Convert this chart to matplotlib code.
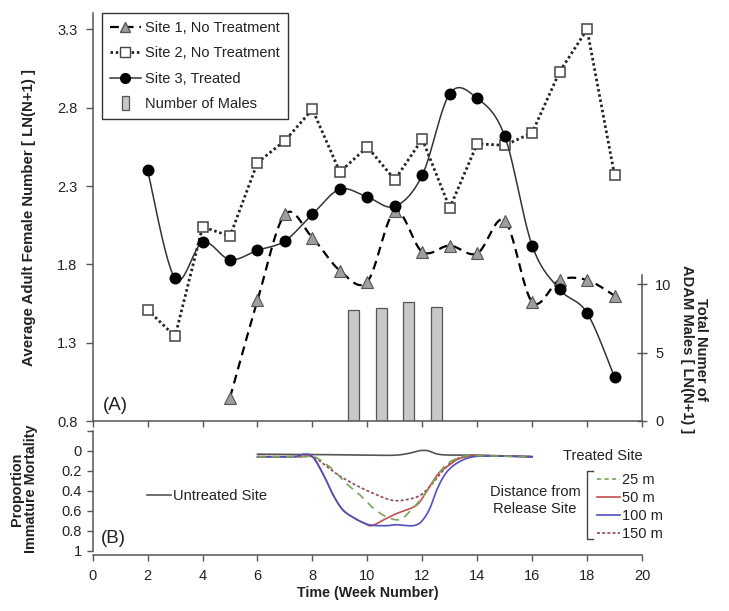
import numpy as np
import matplotlib
matplotlib.use('Agg')
import matplotlib.pyplot as plt
from matplotlib.lines import Line2D
from matplotlib.patches import Rectangle
from matplotlib.legend_handler import HandlerPatch

plt.rcParams['font.family'] = ['Liberation Sans', 'DejaVu Sans']

# ---- data ----
site1_weeks = [5, 6, 7, 8, 9, 10, 11, 12, 13, 14, 15, 16, 17, 18, 19]
site1 = [0.95, 1.57, 2.12, 1.97, 1.76, 1.69, 2.14, 1.88, 1.92, 1.87, 2.08, 1.56, 1.70, 1.70, 1.60]

site2_weeks = [2, 3, 4, 5, 6, 7, 8, 9, 10, 11, 12, 13, 14, 15, 16, 17, 18, 19]
site2 = [1.51, 1.34, 2.04, 1.98, 2.45, 2.59, 2.79, 2.39, 2.55, 2.34, 2.60, 2.16, 2.57, 2.56, 2.64, 3.03, 3.30, 2.37]

site3_weeks = [2, 3, 4, 5, 6, 7, 8, 9, 10, 11, 12, 13, 14, 15, 16, 17, 18, 19]
site3 = [2.40, 1.71, 1.94, 1.83, 1.89, 1.95, 2.12, 2.28, 2.23, 2.17, 2.37, 2.89, 2.86, 2.62, 1.92, 1.64, 1.49, 1.08]

male_weeks = [9.5, 10.5, 11.5, 12.5]
males = [8.1, 8.3, 8.7, 8.35]

untreated_x = [6, 8, 10, 11, 11.5, 11.9, 12.2, 12.5, 12.9, 14, 16]
untreated = [0.035, 0.038, 0.045, 0.045, 0.027, 0.0, 0.0, 0.03, 0.043, 0.045, 0.06]

m25_x = [6, 7.5, 8.0, 8.27, 8.75, 9.24, 9.72, 10.2, 10.69, 11.17, 11.54, 11.9, 12.21, 12.51, 12.87, 13.24, 13.6, 14, 15, 16]
m25 = [0.06, 0.06, 0.06, 0.09, 0.19, 0.33, 0.44, 0.57, 0.66, 0.69, 0.61, 0.50, 0.39, 0.26, 0.14, 0.08, 0.05, 0.05, 0.055, 0.06]

m50_x = [6, 7.5, 8.0, 8.4, 8.75, 9.1, 9.5, 9.85, 10.15, 10.6, 11.05, 11.55, 11.85, 12.15, 12.4, 12.65, 12.95, 13.25, 13.6, 14, 15, 16]
m50 = [0.06, 0.06, 0.06, 0.24, 0.44, 0.59, 0.67, 0.72, 0.75, 0.69, 0.63, 0.58, 0.53, 0.41, 0.30, 0.21, 0.15, 0.09, 0.06, 0.05, 0.055, 0.06]

m100_x = [6, 7.3, 7.7, 8.0, 8.4, 8.75, 9.1, 9.5, 9.85, 10.15, 10.7, 11.05, 11.45, 11.75, 12.0, 12.27, 12.5, 12.75, 13.0, 13.35, 13.7, 14.1, 15, 16]
m100 = [0.06, 0.06, 0.035, 0.06, 0.24, 0.44, 0.59, 0.67, 0.72, 0.745, 0.75, 0.74, 0.75, 0.745, 0.70, 0.58, 0.41, 0.27, 0.18, 0.11, 0.07, 0.055, 0.055, 0.06]

m150_x = [6, 7.5, 8.0, 8.39, 8.87, 9.48, 10.08, 10.69, 11.05, 11.42, 11.9, 12.27, 12.63, 12.99, 13.36, 13.72, 14.5, 16]
m150 = [0.06, 0.06, 0.06, 0.13, 0.23, 0.33, 0.41, 0.48, 0.50, 0.49, 0.45, 0.36, 0.24, 0.13, 0.07, 0.05, 0.05, 0.06]

top_ticks = [0.8, 1.3, 1.8, 2.3, 2.8, 3.3]
male_ticks = [0, 5, 10]
mort_ticks = [-0.2, 0, 0.2, 0.4, 0.6, 0.8, 1]
mort_labels = ['', '0', '0.2', '0.4', '0.6', '0.8', '1']
week_ticks = [0, 2, 4, 6, 8, 10, 12, 14, 16, 18, 20]


def smooth(x, y, n=24):
    # Catmull-Rom curve through the points (like Excel's smoothed line)
    P = np.column_stack([x, y]).astype(float)
    P = np.vstack([P[0], P, P[-1]])
    t = np.linspace(0, 1, n, endpoint=False)[:, None]
    segs = []
    for i in range(1, len(P) - 2):
        p0, p1, p2, p3 = P[i - 1], P[i], P[i + 1], P[i + 2]
        segs.append(0.5 * (2 * p1 + (p2 - p0) * t
                           + (2 * p0 - 5 * p1 + 4 * p2 - p3) * t ** 2
                           + (-p0 + 3 * p1 - 3 * p2 + p3) * t ** 3))
    segs.append(P[-2][None])
    c = np.vstack(segs)
    return c[:, 0], c[:, 1]


W, H = 729, 611
fig = plt.figure(figsize=(7.29, 6.11), dpi=100)
fx = lambda px: px / W
fy = lambda py: 1 - py / H

spine_c = '#555555'
text_c = '#222222'

axA = fig.add_axes([fx(92.7), fy(421), fx(642) - fx(92.7), fy(13) - fy(421)])
axM = axA.twinx()
axA.set_zorder(axM.get_zorder() + 1)
axA.patch.set_visible(False)
axB = fig.add_axes([fx(92.7), fy(555), fx(642) - fx(92.7), fy(430.7) - fy(555)])

# ---- panel A ----
axM.bar(male_weeks, males, width=0.4, color='#c8c8c8', edgecolor='#555555', linewidth=0.9)

sx, sy = smooth(site1_weeks, site1)
axA.plot(sx, sy, color='black', lw=1.6, dashes=(4, 2.6))
axA.plot(site1_weeks, site1, '^', mfc='#9e9e9e', mec='#555555', mew=0.8, ms=9)

axA.plot(site2_weeks, site2, color='#222222', lw=2.0, dashes=(0.9, 1.0))
axA.plot(site2_weeks, site2, 's', mfc='white', mec='#444444', mew=1.1, ms=7.6)

sx, sy = smooth(site3_weeks, site3)
axA.plot(sx, sy, color='#333333', lw=1.1)
axA.plot(site3_weeks, site3, 'o', color='black', ms=7.6)

axA.set_xlim(0, 20)
axA.set_ylim(0.8, 3.405)
axA.set_yticks(top_ticks)
axA.set_yticklabels(['%.1f' % v for v in top_ticks])
axA.set_xticks(week_ticks)
axA.set_xticklabels([])
axM.set_ylim(0, 29.85)
axM.set_yticks(male_ticks)

for s in ['top', 'right']:
    axA.spines[s].set_visible(False)
for s in ['top', 'left', 'bottom']:
    axM.spines[s].set_visible(False)
axM.spines['right'].set_bounds(0, 10.7)
for a in (axA, axM, axB):
    for s in a.spines.values():
        s.set_color(spine_c)
        s.set_linewidth(1.1)
axA.tick_params(axis='y', length=5, width=1, color=spine_c, labelsize=10.5, labelcolor=text_c, pad=6)
axA.tick_params(axis='x', length=4, width=1, color=spine_c)
axM.tick_params(axis='y', direction='inout', length=7, width=1, color=spine_c, labelsize=10.5,
                labelcolor=text_c, pad=6)

axA.set_ylabel('Average Adult Female Number [ LN(N+1) ]', fontsize=10.8, fontweight='bold',
               color=text_c, va='center')
axA.yaxis.set_label_coords((29 - 92.7) / 549.3, 0.5)
axM.set_ylabel('Total Numer of\nADAM Males [ LN(N+1) ]', fontsize=10.6, fontweight='bold',
               color=text_c, rotation=270, va='center', ha='center', linespacing=1.0)
axM.yaxis.set_label_coords((694 - 92.7) / 549.3, (421 - 349) / 408)

axA.text(0.019, 0.039, '(A)', transform=axA.transAxes, fontsize=13.5, color=text_c, va='center')


def narrow_bar(legend, orig_handle, xdescent, ydescent, width, height, fontsize):
    return Rectangle((-xdescent + width / 2 - 2.6, -ydescent - 1.5), 5.2, height + 3)


leg_handles = [
    Line2D([], [], color='black', lw=1.6, dashes=(4, 2.6), marker='^', mfc='#9e9e9e', mec='#555555', ms=7),
    Line2D([], [], color='#222222', lw=2.0, dashes=(0.9, 1.0), marker='s', mfc='white', mec='#444444', ms=6.5),
    Line2D([], [], color='#333333', lw=1.1, marker='o', mfc='black', mec='black', ms=7),
    Rectangle((0, 0), 1, 1, facecolor='#c8c8c8', edgecolor='#555555', lw=0.9),
]
leg_labels = ['Site 1, No Treatment', 'Site 2, No Treatment', 'Site 3, Treated', 'Number of Males']
legA = axA.legend(leg_handles, leg_labels, loc='upper left', bbox_to_anchor=(fx(102), fy(13)),
                  bbox_transform=fig.transFigure, borderaxespad=0, fancybox=False,
                  edgecolor='#333333', framealpha=1, fontsize=10.5, handlelength=2.1,
                  handletextpad=0.3, labelspacing=0.78, borderpad=0.55, numpoints=1,
                  handler_map={Rectangle: HandlerPatch(patch_func=narrow_bar)})
legA.get_frame().set_linewidth(1.0)
for t in legA.get_texts():
    t.set_color(text_c)

# ---- panel B ----
lx, ly = smooth(untreated_x, untreated)
axB.plot(lx, ly, color='#555555', lw=1.2)
lx, ly = smooth(m150_x, m150)
axB.plot(lx, ly, color='#8c4a5b', lw=1.2, dashes=(1.8, 1.3))
lx, ly = smooth(m50_x, m50)
axB.plot(lx, ly, color='#c0504d', lw=1.2)
lx, ly = smooth(m100_x, m100)
axB.plot(lx, ly, color='#5050c0', lw=1.2)
lx, ly = smooth(m25_x, m25)
axB.plot(lx, ly, color='#7ba35a', lw=1.2, dashes=(5, 3.5))

axB.set_xlim(0, 20)
axB.set_ylim(1.043, -0.2)
axB.set_xticks(week_ticks)
axB.set_yticks(mort_ticks)
axB.set_yticklabels(mort_labels)
axB.spines['top'].set_visible(False)
axB.spines['right'].set_visible(False)
axB.spines['left'].set_bounds(-0.2, 1.0)
axB.tick_params(axis='both', length=4, width=1, color=spine_c, labelsize=10.5, labelcolor=text_c)
axB.tick_params(axis='x', pad=6)
axB.tick_params(axis='y', pad=4)

axB.set_xlabel('Time (Week Number)', fontsize=10.3, fontweight='bold', color=text_c)
axB.xaxis.set_label_coords(0.5, (555 - 592.7) / 124.3)
axB.xaxis.label.set_va('center')
axB.set_ylabel('Proportion\nImmature Mortality', fontsize=10.4, fontweight='bold', color=text_c,
               va='center', linespacing=1.0)
axB.yaxis.set_label_coords((24 - 92.7) / 549.3, (555 - 489) / 124.3)

axB.text(0.015, 0.134, '(B)', transform=axB.transAxes, fontsize=13.5, color=text_c, va='center')
axB.text((563 - 92.7) / 549.3, (555 - 455.7) / 124.3, 'Treated Site', transform=axB.transAxes,
         fontsize=10.5, color=text_c, va='center')
axB.text((535 - 92.7) / 549.3, (555 - 500.5) / 124.3, 'Distance from\nRelease Site',
         transform=axB.transAxes, fontsize=10.5, color=text_c, va='center', ha='center',
         multialignment='center', linespacing=1.35)

# bracket
bx0, bx1 = (586.7 - 92.7) / 549.3, (593 - 92.7) / 549.3
by0, by1 = (555 - 539.3) / 124.3, (555 - 470.7) / 124.3
axB.plot([bx1, bx0, bx0, bx1], [by1, by1, by0, by0], color='#444444', lw=1.0,
         transform=axB.transAxes, clip_on=False)

dist_handles = [
    Line2D([], [], color='#7ba35a', lw=1.2, dashes=(2.5, 2)),
    Line2D([], [], color='#c0504d', lw=1.2),
    Line2D([], [], color='#5050c0', lw=1.2),
    Line2D([], [], color='#8c4a5b', lw=1.2, dashes=(1.8, 1.3)),
]
legD = axB.legend(dist_handles, ['25 m', '50 m', '100 m', '150 m'], loc='upper left',
                  bbox_to_anchor=(fx(597), fy(473)), bbox_transform=fig.transFigure,
                  frameon=False, borderpad=0, borderaxespad=0, fontsize=10.5,
                  handlelength=1.6, handletextpad=0.1, labelspacing=0.28)
for t in legD.get_texts():
    t.set_color(text_c)
axB.add_artist(legD)

legU = axB.legend([Line2D([], [], color='#555555', lw=1.2)], ['Untreated Site'], loc='center left',
                  bbox_to_anchor=(fx(147), fy(495.7)), bbox_transform=fig.transFigure,
                  frameon=False, borderpad=0, borderaxespad=0, fontsize=10.5,
                  handlelength=1.65, handletextpad=0.1)
for t in legU.get_texts():
    t.set_color(text_c)

fig.savefig('out.png', dpi=100, facecolor='white')
